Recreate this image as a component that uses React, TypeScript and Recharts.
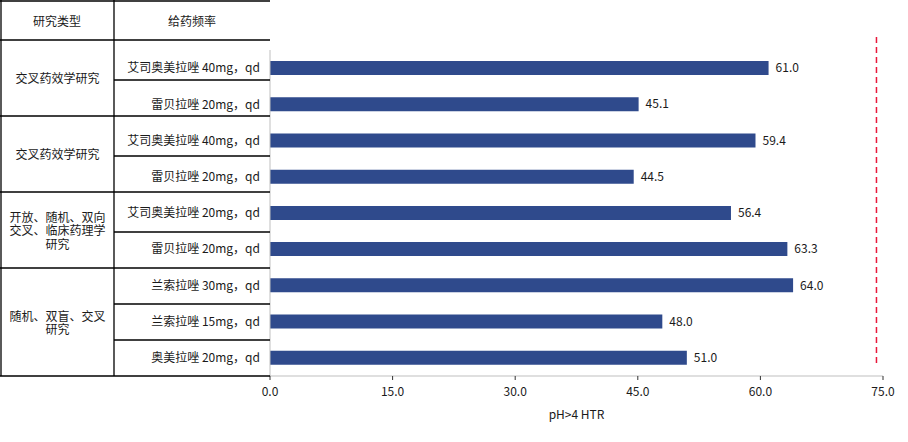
import { BarChart, Bar, XAxis, YAxis, ReferenceLine, LabelList } from 'recharts';

const rowLabels = [
  '艾司奥美拉唑 40mg，qd',
  '雷贝拉唑 20mg，qd',
  '艾司奥美拉唑 40mg，qd',
  '雷贝拉唑 20mg，qd',
  '艾司奥美拉唑 20mg，qd',
  '雷贝拉唑 20mg，qd',
  '兰索拉唑 30mg，qd',
  '兰索拉唑 15mg，qd',
  '奥美拉唑 20mg，qd',
];
const htrValues = [61.0, 45.1, 59.4, 44.5, 56.4, 63.3, 64.0, 48.0, 51.0];
const studyTypes = [
  ['交叉药效学研究'],
  ['交叉药效学研究'],
  ['开放、随机、双向', '交叉、临床药理学', '研究'],
  ['随机、双盲、交叉', '研究'],
];
const groupSizes = [2, 2, 2, 3];
const headers = ['研究类型', '给药频率'];
const xTicks = [0, 15, 30, 45, 60, 75];
const referenceValue = 74.2;
const axisTitle = 'pH>4 HTR';

const data = htrValues.map((value, i) => ({ key: i, value }));

// table layout (pixel rows of the left-hand grid)
const rowEdges = [40, 80, 116, 156, 192, 232, 268, 304, 340, 376];
const col1 = 114;
const tableRight = 270;

function TableOverlay() {
  const groupEdges: number[] = [0];
  groupSizes.forEach((n, i) => groupEdges.push(groupEdges[i] + n));
  return (
    <>
      <svg width={272} height={380} style={{ position: 'absolute', left: 0, top: 0 }}>
        <line x1={0} x2={tableRight} y1={1} y2={1} stroke="#000" strokeWidth={1.3} />
        <line x1={1} x2={1} y1={0} y2={376} stroke="#000" strokeWidth={1.3} />
        <line x1={col1} x2={col1} y1={0} y2={376} stroke="#000" strokeWidth={1.3} />
        {rowEdges.map((y, i) => {
          const isGroup = i === 0 || groupEdges.includes(i);
          return (
            <line key={i} x1={isGroup ? 0 : col1} x2={tableRight} y1={y} y2={y} stroke="#000" strokeWidth={1.3} />
          );
        })}
        <text x={57} y={20} textAnchor="middle" dominantBaseline="central" fontSize={12} fill="#1a1a1a">{headers[0]}</text>
        <text x={192} y={20} textAnchor="middle" dominantBaseline="central" fontSize={12} fill="#1a1a1a">{headers[1]}</text>
      </svg>
      {studyTypes.map((lines, g) => {
        const top = rowEdges[groupEdges[g]];
        const bottom = rowEdges[groupEdges[g + 1]];
        return (
          <div
            key={g}
            style={{
              position: 'absolute',
              left: 1,
              width: col1 - 1,
              top,
              height: bottom - top,
              display: 'flex',
              alignItems: 'center',
              justifyContent: 'center',
              textAlign: 'center',
              whiteSpace: 'pre-line',
              fontSize: 12,
              lineHeight: '13.5px',
              color: '#1a1a1a',
            }}
          >
            {lines.join('\n')}
          </div>
        );
      })}
    </>
  );
}

const RefShape = (props: any) => (
  <line
    x1={props.x1}
    x2={props.x2}
    y1={props.y1 - 13}
    y2={props.y2 - 14}
    stroke="#e8173a"
    strokeWidth={1.5}
    strokeDasharray="6 4"
  />
);

export default function App() {
  return (
    <div
      style={{
        position: 'absolute',
        left: 0,
        top: 0,
        width: 908,
        height: 442,
        background: '#fff',
        fontFamily: "'Noto Sans CJK SC', 'Noto Sans', sans-serif",
      }}
    >
      <BarChart
        width={908}
        height={442}
        data={data}
        layout="vertical"
        margin={{ top: 50, right: 25, bottom: 16, left: 0 }}
      >
        <XAxis
          type="number"
          domain={[0, 75]}
          ticks={xTicks}
          tickFormatter={(v: number) => v.toFixed(1)}
          axisLine={{ stroke: '#bfbfbf' }}
          tickLine={{ stroke: '#333' }}
          tickSize={4}
          tickMargin={7}
          tick={{ fontSize: 12, fill: '#1a1a1a' }}
          height={50}
          label={{ value: axisTitle, position: 'insideBottom', offset: 7, fontSize: 12, fill: '#1a1a1a' }}
        />
        <YAxis
          type="category"
          dataKey="key"
          width={270}
          tickFormatter={(v: number) => rowLabels[v]}
          axisLine={{ stroke: '#bfbfbf' }}
          tickLine={false}
          tickMargin={4}
          tick={{ fontSize: 12, fill: '#1a1a1a' }}
          interval={0}
        />
        <ReferenceLine x={referenceValue} shape={RefShape} />
        <Bar dataKey="value" fill="#2f4a8c" barSize={14} isAnimationActive={false}>
          <LabelList
            dataKey="value"
            position="right"
            offset={7}
            formatter={(v: any) => Number(v).toFixed(1)}
            style={{ fontSize: 12, fill: '#1a1a1a' }}
          />
        </Bar>
      </BarChart>
      <TableOverlay />
    </div>
  );
}
